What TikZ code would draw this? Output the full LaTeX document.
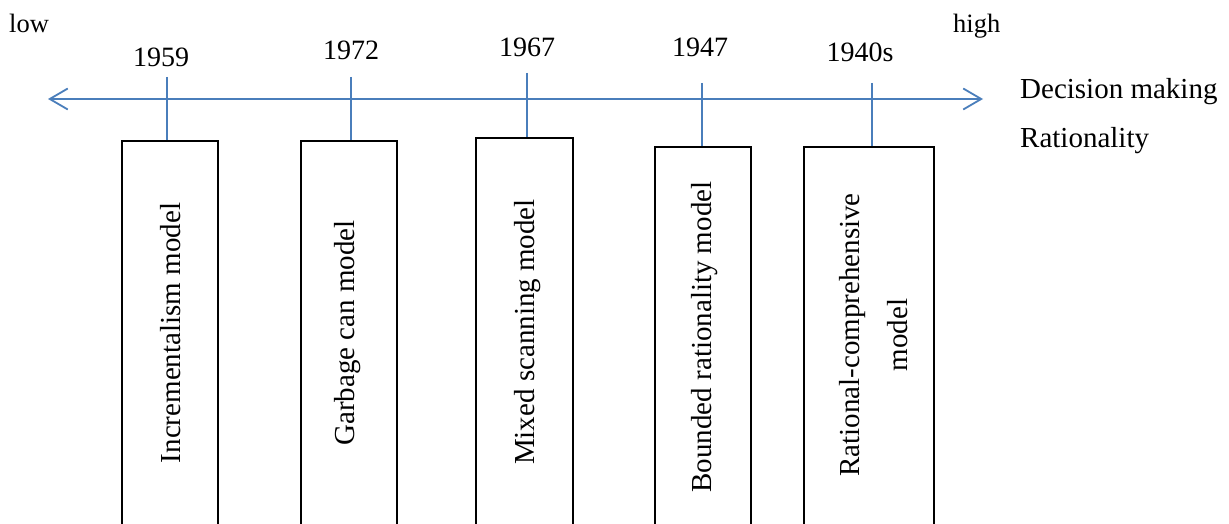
\documentclass[tikz,border=0pt]{standalone}
\usepackage{fontspec}
\setmainfont{Liberation Serif}
\usetikzlibrary{arrows.meta}
\definecolor{axisblue}{RGB}{74,126,187}
\begin{document}
\begin{tikzpicture}[x=1pt,y=-1pt,
  modelbox/.style={draw=black, line width=1.7pt, inner sep=0pt, minimum height=440pt, anchor=north},
  boxtext/.style={rotate=90, inner sep=0pt, align=center, font=\fontsize{29}{48}\selectfont},
  yearlabel/.style={inner sep=0pt, font=\fontsize{28}{32}\selectfont},
  endlabel/.style={inner sep=0pt, anchor=base west, font=\fontsize{26.5}{30}\selectfont},
  sidelabel/.style={inner sep=0pt, anchor=base west, font=\fontsize{29}{33}\selectfont},
  tickline/.style={draw=axisblue, line width=1.8pt},
  axisline/.style={draw=axisblue, line width=1.8pt,
    {Straight Barb[length=18pt,width=21pt,line width=1.8pt]}-{Straight Barb[length=18pt,width=21pt,line width=1.8pt]}}]
\useasboundingbox (0,0) rectangle (1229,524);
\clip (0,0) rectangle (1229,524);
\fill[white] (0,0) rectangle (1229,524);

% end labels
\node[endlabel] (low) at (9,33) {low};
\node[endlabel] (high) at (953,33) {high};

% year labels
\node[yearlabel] (y1) at (161,57) {1959};
\node[yearlabel] (y2) at (351,50) {1972};
\node[yearlabel] (y3) at (527,47) {1967};
\node[yearlabel] (y4) at (700,47) {1947};
\node[yearlabel] (y5) at (860,52) {1940s};

% axis
\coordinate (axl) at (48,99);
\coordinate (axr) at (983,99);
\draw[axisline] (axl) -- (axr);

% side labels
\node[sidelabel] (dm) at (1020,99) {Decision making};
\node[sidelabel] (rat) at (1020,147) {Rationality};

% boxes
\node[modelbox, minimum width=96pt] (b1) at (170,140) {};
\node[modelbox, minimum width=96pt] (b2) at (349,140) {};
\node[modelbox, minimum width=97pt] (b3) at (524.5,137) {};
\node[modelbox, minimum width=96pt] (b4) at (703,146) {};
\node[modelbox, minimum width=130pt] (b5) at (869,146) {};

% box texts
\node[boxtext] (l1) at (171,333) {Incrementalism model};
\node[boxtext] (l2) at (348,333) {Garbage can model};
\node[boxtext] (l3) at (528,332) {Mixed scanning model};
\node[boxtext] (l4) at (705,337) {Bounded rationality model};
\node[boxtext] (l5) at (874,335) {Rational-comprehensive\\model};

% ticks
\coordinate (t1) at (167,77);
\coordinate (t2) at (351,77);
\coordinate (t3) at (527,73);
\coordinate (t4) at (702,83);
\coordinate (t5) at (872,83);
\draw[tickline] (t1) -- (t1 |- b1.north);
\draw[tickline] (t2) -- (t2 |- b2.north);
\draw[tickline] (t3) -- (t3 |- b3.north);
\draw[tickline] (t4) -- (t4 |- b4.north);
\draw[tickline] (t5) -- (t5 |- b5.north);
\end{tikzpicture}
\end{document}
